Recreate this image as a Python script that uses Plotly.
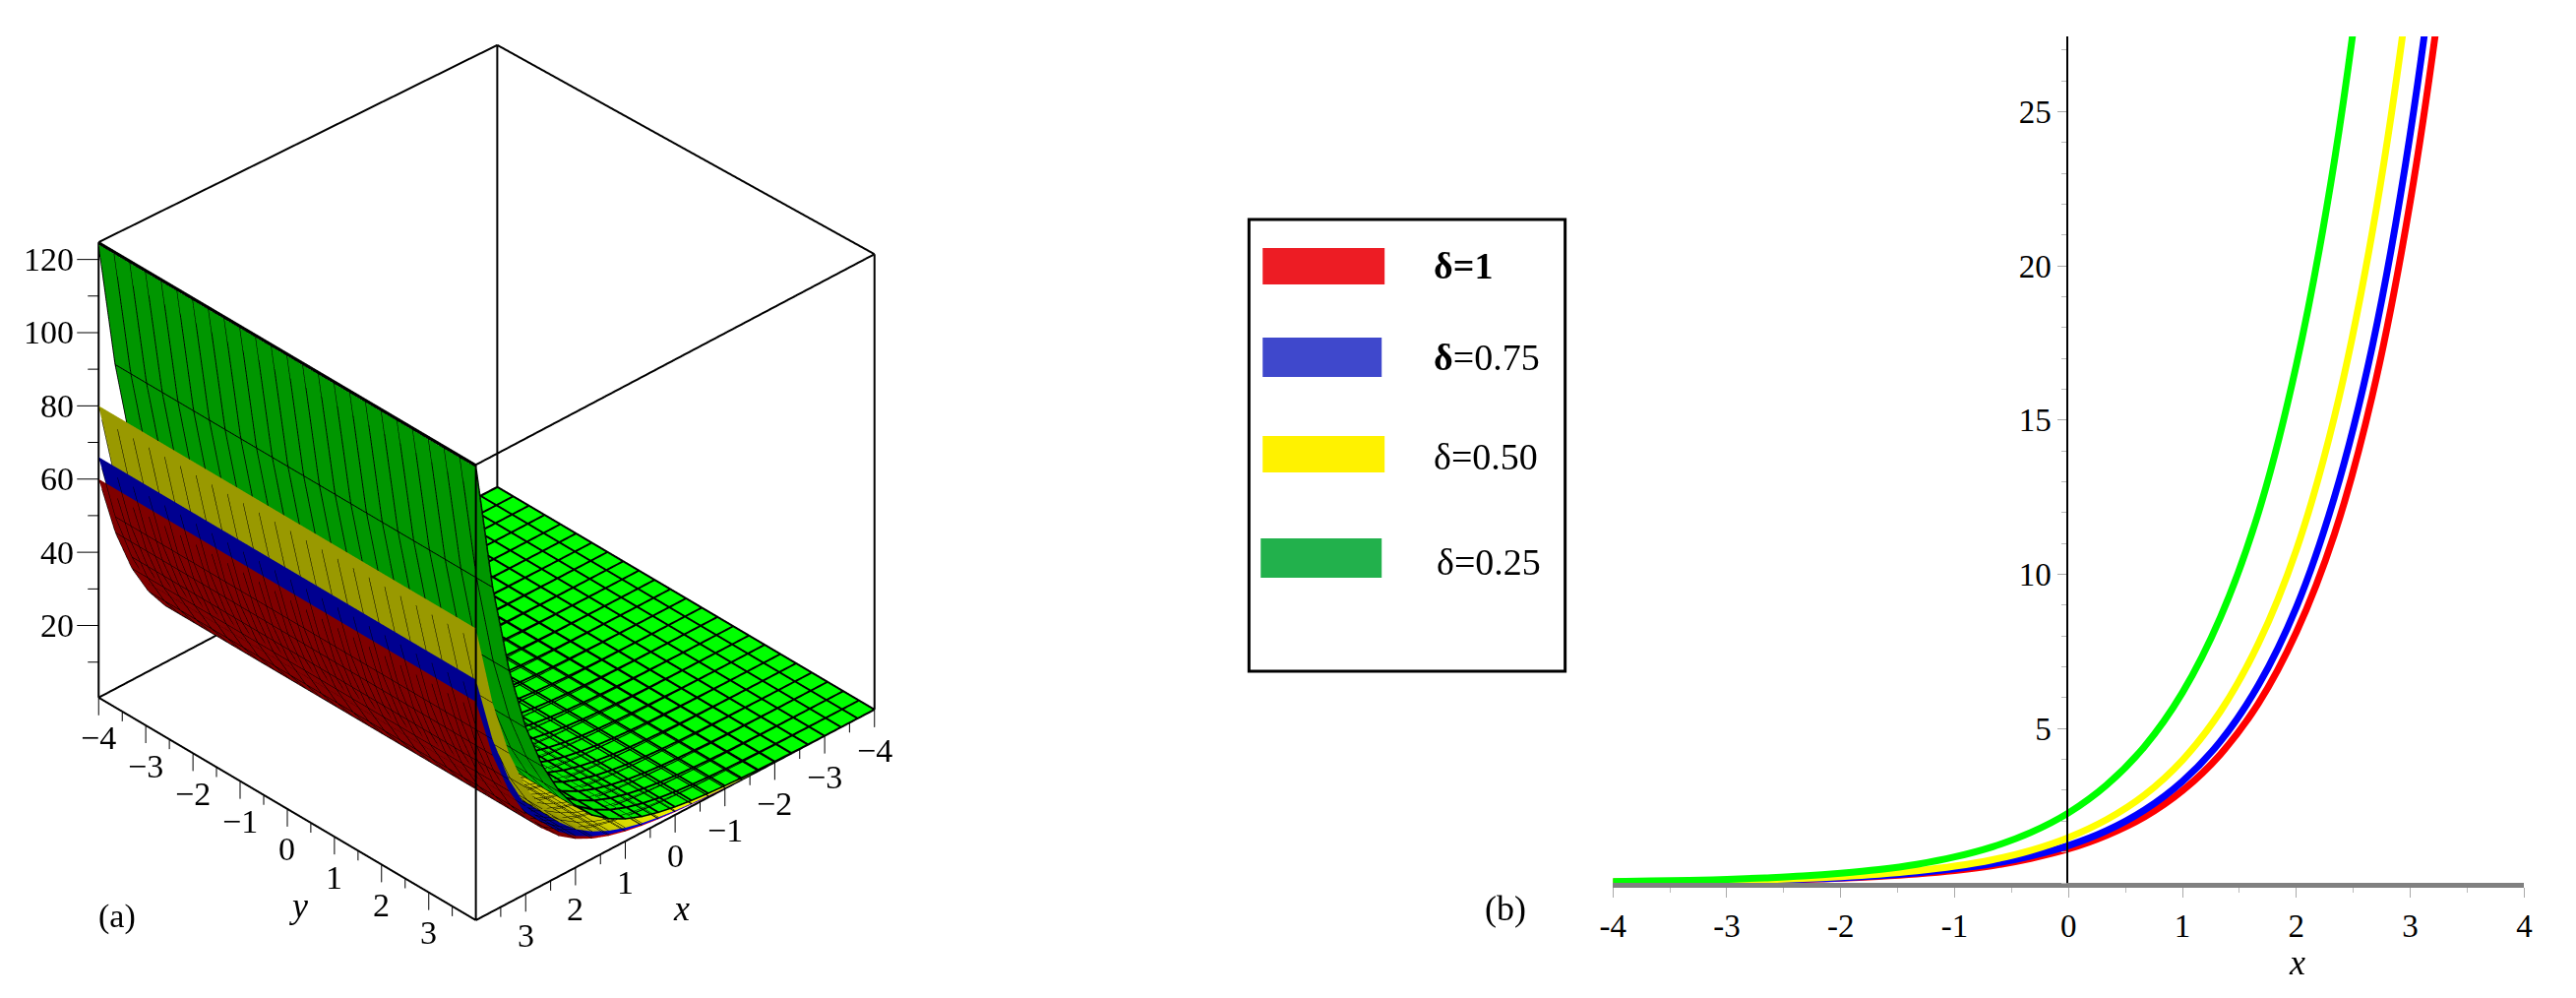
import plotly.graph_objects as go

W, H = 2618, 1014

# ---------- data ----------
x_grid = [-4+k/3 for k in range(25)]
y_grid = [-4+k/3 for k in range(25)]
u_d100 = [.02,.03,.04,.05,.08,.11,.15,.21,.29,.40,.56,.79,1.10,1.54,2.14,2.99,4.17,5.82,8.13,11.3,15.8,22.1,30.8,43.0,60.0]
u_d075 = [.02,.03,.04,.06,.08,.12,.16,.23,.32,.45,.62,.87,1.21,1.69,2.36,3.29,4.59,6.41,8.94,12.5,17.4,24.3,33.9,47.3,66.0]
u_d050 = [.03,.04,.05,.07,.10,.14,.20,.28,.39,.54,.75,1.05,1.47,2.05,2.85,3.98,5.56,7.76,10.8,15.1,21.1,29.4,41.1,57.3,80.0]
u_d025 = [.04,.06,.08,.11,.16,.22,.31,.43,.60,.84,1.17,1.63,2.27,3.17,4.42,6.17,8.61,12.0,16.8,23.4,32.7,45.6,63.6,88.8,124.0]
legend_labels = ["<b>δ=1</b>", "<b>δ</b>=0.75", "δ=0.50", "δ=0.25"]
x_ticks_3d = [-4,-3,-2,-1,0,1,2,3]
y_ticks_3d = [-4,-3,-2,-1,0,1,2,3]
z_ticks_3d = [20,40,60,80,100,120]
ZMIN, ZMAX = 0.3, 124.7
ZBACK = 121.0   # the rear top corner sits lower in the picture
SERIF = "Liberation Serif"

def px(v): return v/W
def py(v): return 1-v/H

fig = go.Figure()

# ---------- (a) 3-D surfaces ----------
series3d = [
    (u_d100, "#800000", "#ff0000", 8),
    (u_d075, "#000090", "#0000ff", 8),
    (u_d050, "#999900", "#ffff00", 10),
    (u_d025, "#009600", "#00ff00", 28),
]
for u, dark, bright, cmax in series3d:
    z = [[v for v in u] for _ in y_grid]
    fig.add_trace(go.Surface(
        x=x_grid, y=y_grid, z=z, surfacecolor=z, cmin=0, cmax=cmax,
        colorscale=[[0, bright], [1, dark]], showscale=False, hoverinfo="skip",
        lighting=dict(ambient=1, diffuse=0, specular=0, fresnel=0, roughness=1),
        contours=dict(
            x=dict(show=True, start=-4, end=4, size=1/3, color="#000", width=2, highlight=False),
            y=dict(show=True, start=-4, end=4, size=1/3, color="#000", width=2, highlight=False),
            z=dict(highlight=False)),
    ))

# heavier mesh lying on top of the uppermost surface
LIFT = 0.25
mx, my, mz = [], [], []
for xv, uv in zip(x_grid, u_d025):
    mx += [xv, xv, None]; my += [-4, 4, None]; mz += [uv+LIFT, uv+LIFT, None]
for yv in y_grid:
    mx += x_grid+[None]; my += [yv]*len(x_grid)+[None]; mz += [uv+LIFT for uv in u_d025]+[None]
fig.add_trace(go.Scatter3d(x=mx, y=my, z=mz, mode="lines",
                           line=dict(color="#000", width=3), hoverinfo="skip", showlegend=False))

# box edges from the axis limits
a, b = -4, 4
ex, ey, ez = [], [], []
corners = [(a,a),(a,b),(b,b),(b,a),(a,a)]
def top(c): return ZBACK if c == (a,a) else ZMAX
for p, q in zip(corners[:-1], corners[1:]):
    ex += [p[0], q[0], None]; ey += [p[1], q[1], None]; ez += [ZMIN, ZMIN, None]
    ex += [p[0], q[0], None]; ey += [p[1], q[1], None]; ez += [top(p), top(q), None]
    ex += [p[0], p[0], None]; ey += [p[1], p[1], None]; ez += [ZMIN, top(p), None]
fig.add_trace(go.Scatter3d(x=ex, y=ey, z=ez, mode="lines",
                           line=dict(color="#000", width=4), hoverinfo="skip", showlegend=False))

# tick marks (outer range is padded so that they are not clipped)
CUBE_PX = 558.0
XU = CUBE_PX/8           # px per x/y unit
ZU = CUBE_PX/(ZMAX-ZMIN) # px per z unit
RX, RY = -.7263, .6873   # screen-right direction in the xy plane
tx, ty, tz = [], [], []
def seg(x0,y0,z0,x1,y1,z1):
    tx.extend([x0,x1,None]); ty.extend([y0,y1,None]); tz.extend([z0,z1,None])
for k in range(16):
    v = -4+k/2
    L = (18 if k%2==0 else 10)/ZU/.83
    seg(v,4,ZMIN,v,4,ZMIN-L)      # x ticks on the front-right edge
    seg(4,v,ZMIN,4,v,ZMIN-L)      # y ticks on the left-front edge
for k in range(1,13):
    v = 10*k
    L = (22 if k%2==0 else 11)/XU
    seg(4,-4,v,4-RX*L,-4-RY*L,v)  # z ticks pointing left on screen
fig.add_trace(go.Scatter3d(x=tx, y=ty, z=tz, mode="lines",
                           line=dict(color="#000", width=2), hoverinfo="skip", showlegend=False))

scene_anns = []
def sann(t, x, y, z, xs=0, ys=0, anchor="center"):
    scene_anns.append(dict(text=t, x=x, y=y, z=z, xshift=xs, yshift=ys, xanchor=anchor, yanchor="middle",
                           showarrow=False, font=dict(family=SERIF, size=34, color="#000")))
for v in x_ticks_3d:
    sann(str(v).replace("-", "\u2212"), v, 4, ZMIN, 0, -42)
for v in y_ticks_3d:
    sann(str(v).replace("-", "\u2212"), 4, v, ZMIN, 0, -41)
for v in z_ticks_3d:
    sann(str(v), 4, -4, v, -23, 0, "right")

hidden = dict(visible=False, showspikes=False)
P = 1.0      # padding in x/y units
PZ = 25.0    # padding in z units
K = 1.1535   # on-screen size of the cube (orthographic zoom)
fig.update_layout(
    width=W, height=H, margin=dict(l=0, r=0, t=0, b=0),
    paper_bgcolor="#fff", plot_bgcolor="#fff", showlegend=False, font=dict(family=SERIF, color="#000"),
    scene=dict(
        domain=dict(x=[0, 969/W], y=[1-967/H, 1]),
        xaxis=dict(range=[-4-P, 4+P], **hidden),
        yaxis=dict(range=[-4-P, 4+P], **hidden),
        zaxis=dict(range=[ZMIN-PZ, ZMAX+PZ], **hidden),
        aspectmode="manual",
        aspectratio=dict(x=K*(1+P/4), y=K*(1+P/4), z=K*(1+2*PZ/(ZMAX-ZMIN))),
        camera=dict(projection=dict(type="orthographic"),
                    eye=dict(x=.6873, y=.7263, z=.673),
                    center=dict(x=0, y=0, z=0), up=dict(x=0, y=0, z=1)),
        annotations=scene_anns,
    ),
)

# ---------- (b) 2-D curves ----------
for u, col in [(u_d100, "#ff0000"), (u_d075, "#0000ff"), (u_d050, "#ffff00"), (u_d025, "#00ff00")]:
    fig.add_trace(go.Scatter(x=x_grid, y=u, mode="lines", hoverinfo="skip",
                             line=dict(color=col, width=7, shape="spline", smoothing=1.0),
                             xaxis="x", yaxis="y"))

fig.update_layout(
    xaxis=dict(domain=[px(1639), px(2573)], range=[-4, 4], anchor="y", tickmode="array",
               tickvals=[-4,-3,-2,-1,0,1,2,3,4], ticktext=["-4","-3","-2","-1","0","1","2","3","4"],
               ticks="outside", ticklen=10, tickwidth=1, tickcolor="#aaa", showgrid=False, zeroline=False,
               showline=True, linecolor="#808080", linewidth=5,
               tickfont=dict(family=SERIF, size=33, color="#000"),
               minor=dict(dtick=0.5, ticks="outside", ticklen=5, tickcolor="#bbb", tickwidth=1, tick0=0)),
    yaxis=dict(domain=[py(897), py(37)], range=[0, 27.44], anchor="free", position=px(2105), tickmode="array",
               tickvals=[5,10,15,20,25], ticks="outside", ticklen=9, tickwidth=1, tickcolor="#aaa",
               showgrid=False, zeroline=False, showline=True, linecolor="#000", linewidth=2,
               tickfont=dict(family=SERIF, size=33, color="#000"),
               minor=dict(dtick=1, ticks="outside", ticklen=5, tickcolor="#bbb", tickwidth=1, tick0=0)),
)

# ---------- hand-drawn legend and labels ----------
shapes = [dict(type="rect", xref="paper", yref="paper", x0=px(1266), x1=px(1590), y0=py(682), y1=py(223),
               line=dict(color="#000", width=3), fillcolor="#fff")]
swatches = [(1280,1405,252,289,"#ED1C24"),(1280,1402,343,383,"#3F48CC"),(1280,1405,443,480,"#FFF200"),(1278,1402,547,587,"#22B14C")]
for x0,x1,y0,y1,c in swatches:
    shapes.append(dict(type="rect", xref="paper", yref="paper", x0=px(x0), x1=px(x1), y0=py(y0), y1=py(y1),
                       line=dict(width=0), fillcolor=c))
anns = []
def text(s, x, y, size, anchor="left"):
    anns.append(dict(text=s, x=px(x), y=py(y), xref="paper", yref="paper", xanchor=anchor, yanchor="middle",
                     showarrow=False, font=dict(family=SERIF, size=size, color="#000")))
for s, xx, yy in zip(legend_labels, [1453,1453,1453,1456], [270,363,464,571]):
    text(s, xx, yy, 38)
text("(a)", 106, 931, 34, "center")
text("(b)", 1529, 923, 36, "center")
text("<i>y</i>", 292, 920, 36, "center")
text("<i>x</i>", 684, 923, 36, "center")
text("<i>x</i>", 2340, 978, 36, "center")
fig.update_layout(shapes=shapes, annotations=anns)

fig.write_html("out.html", config=dict(displayModeBar=False),
               post_script="document.body.style.margin='0';document.body.style.overflow='hidden';")
